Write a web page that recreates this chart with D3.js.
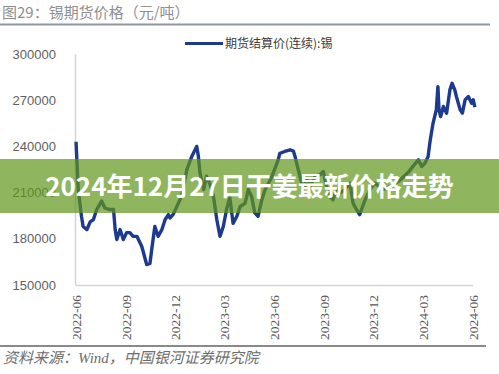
<!DOCTYPE html>
<html>
<head>
<meta charset="utf-8">
<script src="https://cdn.jsdelivr.net/npm/d3@7"></script>
<style>
  html, body { margin: 0; padding: 0; background: #fff; }
  svg { display: block; }
</style>
</head>
<body>
<div id="chart"></div>
<script>
document.addEventListener("DOMContentLoaded", function(){

  // 锡期货结算价(连续), 元/吨
  var dates = ["2022-06-02","2022-06-06","2022-06-12","2022-06-15","2022-06-22","2022-06-28","2022-07-04","2022-07-10","2022-07-19","2022-07-25",
    "2022-08-03","2022-08-10","2022-08-13","2022-08-16","2022-08-22","2022-08-28","2022-09-03","2022-09-09","2022-09-15","2022-09-22",
    "2022-10-01","2022-10-10","2022-10-16","2022-10-20","2022-10-25","2022-10-31","2022-11-07","2022-11-13","2022-11-19","2022-11-22",
    "2022-11-28","2022-12-13","2022-12-23","2023-01-01","2023-01-10","2023-01-13","2023-01-16","2023-01-23","2023-01-28","2023-02-03",
    "2023-02-10","2023-02-16","2023-02-22","2023-02-28","2023-03-06","2023-03-12","2023-03-18","2023-03-25","2023-03-31","2023-04-09",
    "2023-04-15","2023-04-21","2023-04-27","2023-05-03","2023-05-10","2023-05-16","2023-05-28","2023-06-09","2023-06-12","2023-06-21",
    "2023-07-01","2023-07-07","2023-07-10","2023-07-13","2023-07-19","2023-07-25","2023-08-01","2023-08-07","2023-08-16","2023-08-25",
    "2023-08-31","2023-09-06","2023-09-12","2023-09-18","2023-09-24","2023-10-01","2023-10-10","2023-10-19","2023-10-25","2023-10-31",
    "2023-11-06","2023-11-16","2023-11-25","2023-12-04","2023-12-19","2024-01-01","2024-01-19","2024-02-03","2024-02-12","2024-02-22",
    "2024-02-28","2024-03-05","2024-03-11","2024-03-14","2024-03-17","2024-03-20","2024-03-23","2024-03-26","2024-03-29","2024-03-31",
    "2024-04-03","2024-04-08","2024-04-14","2024-04-20","2024-04-24","2024-04-29","2024-05-02","2024-05-09","2024-05-13","2024-05-18",
    "2024-05-24","2024-05-30","2024-06-02","2024-06-05"];
  var prices = [243000,212000,194600,188000,186000,191000,192500,199000,204500,200000,
    199000,199000,186000,179500,186000,179500,184000,184000,181600,181600,
    175000,163300,164000,175000,188000,181600,186000,192500,195700,193500,
    196000,207500,224900,233500,240000,234000,223000,212000,220600,216000,
    207500,192500,181600,188000,199000,207000,190000,194600,201000,203000,
    212000,207500,196800,194600,205400,212000,220000,231300,235500,236700,
    237800,237000,233500,229000,220600,212000,218400,214000,220600,221600,
    223700,214000,207500,205400,212000,209800,212000,216200,203000,199000,
    195700,205400,212000,216200,212000,214000,218000,223000,227000,231300,
    227000,229000,233500,242000,248700,255000,259400,263700,278800,263700,
    259400,265900,261600,276700,281000,276700,272400,263700,261600,270200,
    272400,268100,270200,265500];

  var yTicks = [150000, 180000, 210000, 240000, 270000, 300000];
  var xTicks = ["2022-06","2022-09","2022-12","2023-03","2023-06","2023-09","2023-12","2024-03","2024-06"];

  var title = "图29：锡期货价格（元/吨）";
  var legendLabel = "期货结算价(连续):锡";
  var source = "资料来源：Wind，中国银河证券研究院";
  var banner = "2024年12月27日干姜最新价格走势";

  var width = 499,
  height = 374;

  var parseDay = d3.timeParse("%Y-%m-%d");
  var parseMonth = d3.timeParse("%Y-%m");

  var data = dates.map(function(d, i){ return {date: parseDay(d), value: prices[i]}; });

  var svg = d3.select("#chart")
    .append("svg")
    .attr("width", width)
    .attr("height", height);

  var x = d3.scaleTime()
    .domain([parseMonth("2022-06"), parseMonth("2024-06")])
    .range([75.5, 472.7]);

  var y = d3.scaleLinear()
    .domain([150000, 300000])
    .range([285, 54]);

  // 标题
  svg.append("text")
    .attr("x", 2)
    .attr("y", 18)
    .text(title)
    .style("font-family", "'Noto Sans CJK SC', sans-serif")
    .style("font-size", "15px")
    .style("fill", "#8f8f8f");

  svg.append("line")
    .attr("x1", 0).attr("x2", 490)
    .attr("y1", 24.5).attr("y2", 24.5)
    .style("stroke", "#8e98a3")
    .style("stroke-width", 2);

  // 图例
  svg.append("line")
    .attr("x1", 185).attr("x2", 223)
    .attr("y1", 43.5).attr("y2", 43.5)
    .style("stroke", "#1c3a8e")
    .style("stroke-width", 3);

  svg.append("text")
    .attr("x", 225)
    .attr("y", 48)
    .text(legendLabel)
    .style("font-family", "'Noto Sans CJK SC', sans-serif")
    .style("font-size", "12px")
    .style("fill", "#3a3a3a");

  // 坐标轴
  var yAxis = svg.append("g")
    .attr("transform", "translate(75,0)")
    .call(d3.axisLeft(y).tickValues(yTicks).tickSize(0).tickPadding(19).tickFormat(d3.format("d")));
  yAxis.select(".domain").style("stroke", "#d4d4d4").style("stroke-width", 1.5);
  yAxis.selectAll("text")
    .style("font-family", "'Liberation Sans', sans-serif")
    .style("font-size", "13px")
    .style("fill", "#5f5f5f");

  var xAxis = svg.append("g")
    .attr("transform", "translate(0,285)")
    .call(d3.axisBottom(x).tickValues(xTicks.map(parseMonth)).tickSize(0).tickFormat(d3.timeFormat("%Y-%m")));
  xAxis.select(".domain").style("stroke", "#d4d4d4").style("stroke-width", 1.5);
  xAxis.selectAll("text")
    .attr("transform", "rotate(-90)")
    .attr("x", -10)
    .attr("y", 0)
    .attr("dy", "0.35em")
    .style("text-anchor", "end")
    .style("font-family", "'Liberation Serif', serif")
    .style("font-size", "13.5px")
    .style("fill", "#595959");

  // 价格线
  var line = d3.line()
    .x(function(d) { return x(d.date); })
    .y(function(d) { return y(d.value); });

  svg.append("path")
    .datum(data)
    .attr("d", line)
    .style("fill", "none")
    .style("stroke", "#1c3a8e")
    .style("stroke-width", 3.4)
    .style("stroke-linejoin", "round");

  // 底部
  svg.append("line")
    .attr("x1", 0).attr("x2", 486)
    .attr("y1", 346).attr("y2", 346)
    .style("stroke", "#8a8a8a")
    .style("stroke-width", 2);

  svg.append("text")
    .attr("x", 3)
    .attr("y", 363)
    .text(source)
    .style("font-family", "'Liberation Serif', 'Noto Sans CJK SC', serif")
    .style("font-style", "italic")
    .style("font-size", "15px")
    .style("fill", "#6e6e6e");

  // 横幅 (压在图上, 参考图里也盖住了 210000)
  svg.append("rect")
    .attr("x", 0).attr("y", 159)
    .attr("width", width).attr("height", 54)
    .style("fill", "rgb(95,149,26)")
    .style("opacity", 0.7);

  svg.append("text")
    .attr("x", width / 2)
    .attr("y", 196)
    .attr("text-anchor", "middle")
    .text(banner)
    .style("font-family", "'Noto Sans CJK SC', sans-serif")
    .style("font-weight", "bold")
    .style("font-size", "26px")
    .style("fill", "#fff");

});
</script>
</body>
</html>
